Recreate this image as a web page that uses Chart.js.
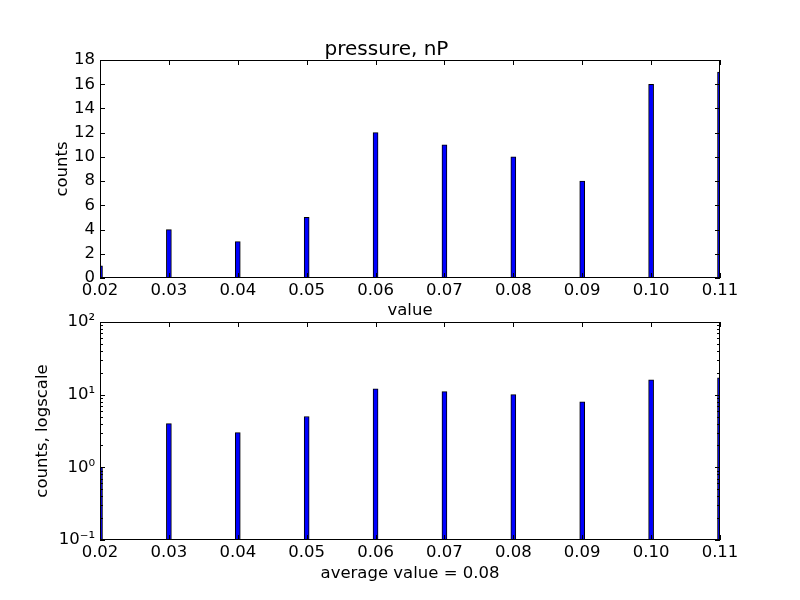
<!DOCTYPE html>
<html>
<head>
<meta charset="utf-8">
<script src="https://cdn.jsdelivr.net/npm/chart.js@4"></script>
<style>
  body { margin: 0; background: #fff; }
  #wrap { position: relative; width: 800px; height: 600px; }
  canvas { position: absolute; left: 0; }
</style>
</head>
<body>
<div id="wrap">
  <canvas id="linChart" width="800" height="322" style="top:0"></canvas>
  <canvas id="logChart" width="800" height="300" style="top:300px"></canvas>
</div>
<script>
// histogram bins (value) and counts
const binValues = [0.02, 0.03, 0.04, 0.05, 0.06, 0.07, 0.08, 0.09, 0.10, 0.11];
const counts = [1, 4, 3, 5, 12, 11, 10, 8, 16, 17];
const xTicks = [0.02, 0.03, 0.04, 0.05, 0.06, 0.07, 0.08, 0.09, 0.10, 0.11];
const yTicks = [0, 2, 4, 6, 8, 10, 12, 14, 16, 18];
const logTicks = [0.1, 1, 10, 100];
const logTickLabels = ['10\u207B\u00B9', '10\u2070', '10\u00B9', '10\u00B2'];

Chart.defaults.font.family = "'DejaVu Sans', sans-serif";
Chart.defaults.color = '#000';

const points = binValues.map((v, i) => ({ x: v, y: counts[i] }));

// matplotlib style frame: box around the axes with inward ticks
const framePlugin = {
  id: 'frame',
  afterDatasetsDraw(chart) {
    const { ctx, chartArea: a, scales: { x, y } } = chart;
    ctx.save();
    ctx.strokeStyle = '#000';
    ctx.lineWidth = 1;
    ctx.beginPath();
    x.ticks.forEach(t => {
      const px = Math.round(x.getPixelForValue(t.value)) + 0.5;
      ctx.moveTo(px, a.bottom); ctx.lineTo(px, a.bottom - 5);
      ctx.moveTo(px, a.top); ctx.lineTo(px, a.top + 5);
    });
    y.ticks.forEach(t => {
      const py = Math.round(y.getPixelForValue(t.value)) + 0.5;
      ctx.moveTo(a.left, py); ctx.lineTo(a.left + 5, py);
      ctx.moveTo(a.right, py); ctx.lineTo(a.right - 5, py);
    });
    if (y.type === 'logarithmic') {
      logTicks.slice(0, -1).forEach(d => {
        for (let k = 2; k <= 9; k++) {
          const py = Math.round(y.getPixelForValue(d * k)) + 0.5;
          ctx.moveTo(a.left, py); ctx.lineTo(a.left + 3, py);
          ctx.moveTo(a.right, py); ctx.lineTo(a.right - 3, py);
        }
      });
    }
    ctx.stroke();
    ctx.strokeRect(a.left + 0.5, a.top + 0.5, a.right - a.left - 1, a.bottom - a.top - 1);
    ctx.restore();
  }
};

function makeX(title, titlePadBottom, height) {
  return {
    type: 'linear',
    min: 0.02,
    max: 0.11,
    offset: false,
    grid: { display: false, drawTicks: false },
    border: { display: false },
    afterBuildTicks: s => { s.ticks = xTicks.map(v => ({ value: v })); },
    afterFit: s => { s.height = height; },
    ticks: {
      font: { size: 16.5 },
      padding: 3,
      maxRotation: 0,
      autoSkip: false,
      callback: v => v.toFixed(2)
    },
    title: { display: true, text: title, font: { size: 16.5 }, padding: { top: 0, bottom: titlePadBottom } }
  };
}

function makeDataset() {
  return [{
    data: points,
    backgroundColor: '#0000ff',
    borderColor: '#000',
    borderWidth: 1,
    borderSkipped: false,
    barThickness: 5
  }];
}

new Chart(document.getElementById('linChart'), {
  type: 'bar',
  data: { datasets: makeDataset() },
  options: {
    responsive: false,
    animation: false,
    layout: { padding: { left: 53, right: 80, top: 0, bottom: 0 } },
    plugins: {
      legend: { display: false },
      tooltip: { enabled: false },
      title: {
        display: true,
        text: 'pressure, nP',
        font: { size: 20, weight: 'normal' },
        padding: { top: 38, bottom: -2 }
      }
    },
    scales: {
      x: makeX('value', 1, 44),
      y: {
        type: 'linear',
        min: 0,
        max: 18,
        grid: { display: false, drawTicks: false },
        border: { display: false },
        afterBuildTicks: s => { s.ticks = yTicks.map(v => ({ value: v })); },
        afterFit: s => { s.width = 47; },
        ticks: { font: { size: 16.5 }, padding: 5 },
        title: { display: true, text: 'counts', font: { size: 16.5 }, padding: 0 }
      }
    }
  },
  plugins: [framePlugin]
});

new Chart(document.getElementById('logChart'), {
  type: 'bar',
  data: { datasets: makeDataset() },
  options: {
    responsive: false,
    animation: false,
    layout: { padding: { left: 33, right: 80, top: 22, bottom: 0 } },
    plugins: {
      legend: { display: false },
      tooltip: { enabled: false }
    },
    scales: {
      x: makeX('average value = 0.08', 16, 60),
      y: {
        type: 'logarithmic',
        min: 0.1,
        max: 100,
        grid: { display: false, drawTicks: false },
        border: { display: false },
        afterBuildTicks: s => { s.ticks = logTicks.map(v => ({ value: v })); },
        afterFit: s => { s.width = 67; },
        ticks: {
          font: { size: 16.5 },
          padding: 5,
          callback: v => logTickLabels[logTicks.indexOf(v)]
        },
        title: { display: true, text: 'counts, logscale', font: { size: 16.5 }, padding: 0 }
      }
    }
  },
  plugins: [framePlugin]
});
</script>
</body>
</html>
